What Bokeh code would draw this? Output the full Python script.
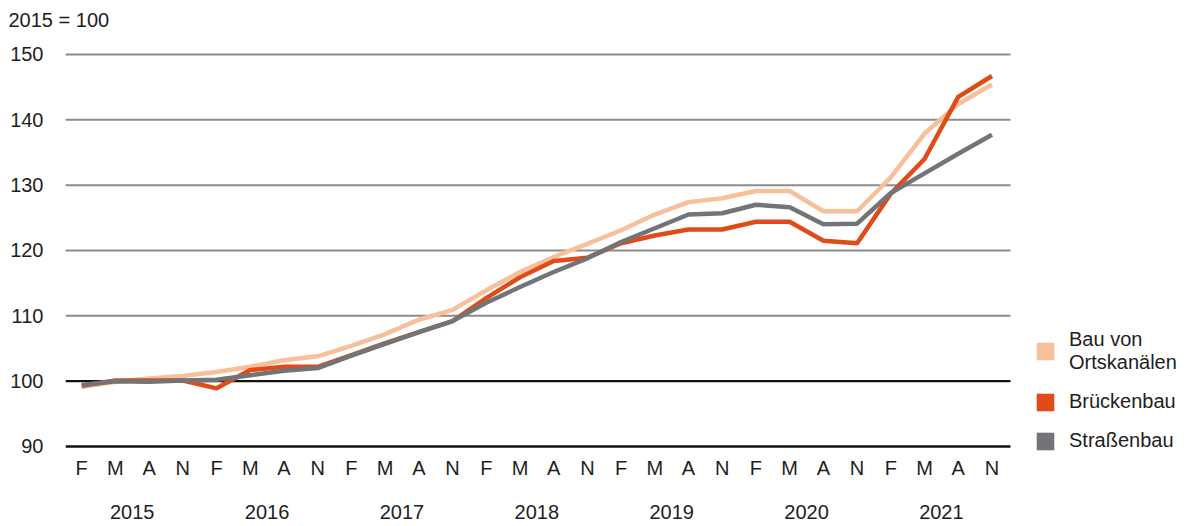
from bokeh.plotting import figure
from bokeh.models import (Legend, LegendItem, LinearAxis, FixedTicker, Range1d)
from bokeh.embed import file_html
from bokeh.resources import INLINE

# ---- data ----
quarters = ["F", "M", "A", "N"]
years = ["2015", "2016", "2017", "2018", "2019", "2020", "2021"]
ortskanaele = [99.1, 99.9, 100.4, 100.8, 101.4, 102.2, 103.2, 103.8, 105.4, 107.2,
               109.4, 110.9, 113.9, 116.7, 119.0, 121.0, 123.1, 125.5, 127.4, 128.0,
               129.1, 129.1, 126.0, 126.0, 131.2, 137.9, 142.4, 145.4]
brueckenbau = [99.3, 100.1, 100.1, 100.1, 98.9, 101.7, 102.2, 102.2, 104.0, 105.8,
               107.5, 109.2, 112.7, 115.9, 118.4, 118.9, 121.1, 122.3, 123.2, 123.2,
               124.4, 124.4, 121.5, 121.1, 128.7, 134.0, 143.5, 146.7]
strassenbau = [99.4, 100.0, 99.9, 100.1, 100.2, 100.9, 101.6, 102.0, 103.9, 105.7,
               107.5, 109.2, 112.0, 114.4, 116.7, 118.8, 121.3, 123.4, 125.5, 125.7,
               127.0, 126.6, 124.0, 124.1, 128.8, 131.8, 134.8, 137.7]
series_names = ["Bau von\nOrtskanälen", "Brückenbau", "Straßenbau"]
y_ticks = [90, 100, 110, 120, 130, 140, 150]
grid_ticks = [110, 120, 130, 140, 150]
base_lines = [90, 100]

FONT = "Liberation Sans"
FS = "20px"
TXT = "#1e1e1e"
C_LIGHT = "#F8BF9B"
C_RED = "#E04B17"
C_GRAY = "#727478"

n = len(quarters) * len(years)
xs = list(range(n))

# horizontal extent of the chart area (grid lines), and room on the right for the legend
X_LO = -0.48
X_HI = n - 0.45
X_END = X_HI + 5.28

p = figure(width=1188, height=526, output_backend="svg", toolbar_location=None,
           x_range=Range1d(X_LO, X_END), y_range=Range1d(88.16, 150.3),
           min_border_left=65, min_border_right=0, min_border_top=52, min_border_bottom=68)
p.outline_line_color = None
p.background_fill_color = "white"
p.border_fill_color = "white"
p.grid.grid_line_color = None

# title (second, blank line lifts the visible line upwards)
p.title.text = "2015 = 100\n\u00a0"
p.title.text_font = FONT
p.title.text_font_size = FS
p.title.text_font_style = "normal"
p.title.text_color = TXT
p.title.text_line_height = 1.0
p.title.offset = -57
p.title.standoff = 0

# grid lines limited to the chart area
p.segment(x0=[X_LO] * len(grid_ticks), x1=[X_HI] * len(grid_ticks), y0=grid_ticks, y1=grid_ticks,
          line_color="#8C8C8C", line_width=2)
p.segment(x0=[X_LO] * len(base_lines), x1=[X_HI] * len(base_lines), y0=base_lines, y1=base_lines,
          line_color="#111111", line_width=2.4)

# y axis
p.yaxis.ticker = FixedTicker(ticks=y_ticks)
p.yaxis.axis_line_color = None
p.yaxis.major_tick_line_color = None
p.yaxis.minor_tick_line_color = None
p.yaxis.major_label_standoff = 16
p.yaxis.major_label_text_font = FONT
p.yaxis.major_label_text_font_size = FS
p.yaxis.major_label_text_color = TXT

# x axis (quarters)
p.xaxis.ticker = FixedTicker(ticks=xs)
p.xaxis.major_label_overrides = {i: quarters[i % 4] for i in xs}
p.xaxis.axis_line_color = None
p.xaxis.major_tick_line_color = None
p.xaxis.minor_tick_line_color = None
p.xaxis.major_label_standoff = -8
p.xaxis.major_label_text_font = FONT
p.xaxis.major_label_text_font_size = FS
p.xaxis.major_label_text_color = TXT

# year axis
year_ticks = [4 * i + 1.5 for i in range(len(years))]
yax = LinearAxis(ticker=FixedTicker(ticks=year_ticks),
                 major_label_overrides={t: years[i] for i, t in enumerate(year_ticks)})
yax.axis_line_color = None
yax.major_tick_line_color = None
yax.minor_tick_line_color = None
yax.major_label_standoff = 17
yax.major_label_text_font = FONT
yax.major_label_text_font_size = FS
yax.major_label_text_color = TXT
p.add_layout(yax, "below")

# lines
r1 = p.line(xs, ortskanaele, line_color=C_LIGHT, line_width=4.5)
r2 = p.line(xs, brueckenbau, line_color=C_RED, line_width=4.5)
r3 = p.line(xs, strassenbau, line_color=C_GRAY, line_width=4.5)

# legend swatches (area glyphs placed at NaN so they are not drawn in the plot)
nan = float("nan")
s1 = p.quad(left=[nan], right=[nan], bottom=[nan], top=[nan], fill_color=C_LIGHT, line_color=None)
s2 = p.quad(left=[nan], right=[nan], bottom=[nan], top=[nan], fill_color=C_RED, line_color=None)
s3 = p.quad(left=[nan], right=[nan], bottom=[nan], top=[nan], fill_color=C_GRAY, line_color=None)

legend = Legend(items=[LegendItem(label=series_names[0], renderers=[s1]),
                       LegendItem(label=series_names[1], renderers=[s2]),
                       LegendItem(label=series_names[2], renderers=[s3])],
                location=(969, 6))
legend.label_text_font = FONT
legend.label_text_font_size = FS
legend.label_text_color = TXT
legend.label_text_line_height = 1.25
legend.glyph_width = 22
legend.glyph_height = 22
legend.spacing = 16
legend.padding = 0
legend.margin = 0
legend.label_standoff = 13
legend.background_fill_alpha = 0
legend.border_line_color = None
p.add_layout(legend, "center")

open("out.html", "w").write(file_html(p, INLINE))
